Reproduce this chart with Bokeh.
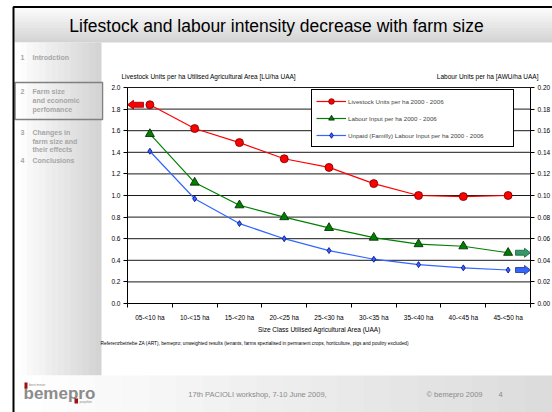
from bokeh.plotting import figure
from bokeh.models import (Range1d, LinearAxis, FixedTicker, NumeralTickFormatter,
                          Legend, LegendItem, GlobalInlineStyleSheet, InlineStyleSheet)
from bokeh.core.properties import value
from bokeh.embed import file_html
from bokeh.resources import INLINE

FONT = "Liberation Sans"

# ---------------- data ----------------
title_text = "Lifestock and labour intensity decrease with farm size"
categories = ["05-<10 ha", "10-<15 ha", "15-<20 ha", "20-<25 ha", "25-<30 ha",
              "30-<35 ha", "35-<40 ha", "40-<45 ha", "45-<50 ha"]
livestock = [1.84, 1.62, 1.49, 1.34, 1.26, 1.11, 1.00, 0.99, 1.00]
labour = [0.157, 0.112, 0.091, 0.080, 0.070, 0.061, 0.055, 0.053, 0.047]
unpaid = [0.141, 0.097, 0.074, 0.060, 0.049, 0.041, 0.036, 0.033, 0.031]
series_labels = ["Livestock Units per ha 2000 - 2006",
                 "Labour Input per ha 2000 - 2006",
                 "Unpaid (Familly) Labour Input per ha 2000 - 2006"]
lu_ticks = [0.0, 0.2, 0.4, 0.6, 0.8, 1.0, 1.2, 1.4, 1.6, 1.8, 2.0]
awu_ticks = [0.0, 0.02, 0.04, 0.06, 0.08, 0.10, 0.12, 0.14, 0.16, 0.18, 0.20]
left_title = "Livestock Units per ha Utilised Agricultural Area  [LU/ha UAA]"
right_title = "Labour Units per ha [AWU/ha UAA]"
x_title = "Size Class Utilised Agricultural Area (UAA)"
footnote = ("Referenzbetriebe ZA (ART), bemepro;  unweighted results (tenants, farms spezialised "
            "in permanent crops, horticulture, pigs and poultry excluded)")
nav_items = [("1", ["Introdction"]),
             ("2", ["Farm size", "and economic", "perfomance"]),
             ("3", ["Changes in", "farm size and", "their effects"]),
             ("4", ["Conclusions"])]
footer_event = "17th PACIOLI workshop, 7-10 June 2009,"
footer_copy = "\u00a9 bemepro 2009"
page_no = "4"
logo_text = "bemepro"

# ---------------- geometry (page pixel coords) ----------------
W, H = 552, 412
FL, FR, FT, FB = 127, 530, 87, 303          # chart plot area on the page
LU_MAX, AWU_MAX = lu_ticks[-1], awu_ticks[-1]
ncat = len(categories)
px_x = (FR - FL) / ncat
px_lu = (FB - FT) / LU_MAX
px_awu = (FB - FT) / AWU_MAX

p = figure(width=W, height=H,
           x_range=Range1d(-FL / px_x, ncat + (W - FR) / px_x),
           y_range=Range1d(-(H - FB) / px_lu, LU_MAX + FT / px_lu),
           x_axis_location=None, y_axis_location=None,
           output_backend="svg", toolbar_location=None,
           min_border=0, min_border_left=0, min_border_right=0,
           min_border_top=0, min_border_bottom=0)
p.stylesheets = [
    GlobalInlineStyleSheet(css="html, body { overflow: hidden !important; margin: 0; } "
                               "::-webkit-scrollbar { display: none; width: 0; height: 0; }"),
    InlineStyleSheet(css=":host { overflow: hidden !important; } "
                         "::-webkit-scrollbar { display: none; width: 0; height: 0; }"),
]
p.title.visible = False
p.extra_y_ranges = {"awu": Range1d(-(H - FB) / px_awu, AWU_MAX + FT / px_awu),
                    "px": Range1d(H, 0)}
p.extra_x_ranges = {"px": Range1d(0, W)}
p.outline_line_color = None
p.background_fill_color = "white"
p.border_fill_color = "white"
p.xgrid.visible = False
p.ygrid.visible = False

PX = dict(x_range_name="px", y_range_name="px")


def mix(c0, c1, t):
    a = [int(c0[i:i + 2], 16) for i in (1, 3, 5)]
    b = [int(c1[i:i + 2], 16) for i in (1, 3, 5)]
    return "#%02x%02x%02x" % tuple(round(a[k] + (b[k] - a[k]) * t) for k in range(3))


def grad(x0, y0, x1, y1, c0, c1, n, horizontal=True):
    L, R, T, B, C = [], [], [], [], []
    for i in range(n):
        t = i / (n - 1)
        if horizontal:
            s = (x1 - x0) / n
            L.append(x0 + i * s); R.append(min(x1, x0 + (i + 1) * s + 0.7)); T.append(y0); B.append(y1)
        else:
            s = (y1 - y0) / n
            L.append(x0); R.append(x1); T.append(y0 + i * s); B.append(min(y1, y0 + (i + 1) * s + 0.7))
        C.append(mix(c0, c1, t))
    p.quad(left=L, right=R, top=T, bottom=B, fill_color=C, line_color=None, **PX)


def text(txt, x, y, size, color="black", align="left", style="normal", baseline="middle"):
    p.text(x=[x], y=[y], text=[txt], text_font=value(FONT), text_font_size=value(f"{size}px"),
           text_color=color, text_align=align, text_baseline=baseline,
           text_font_style=style, **PX)


# ---------------- slide decoration ----------------
grad(14, 7, W, 42, "#fbfbfb", "#d4d4d4", 12, horizontal=False)     # header
grad(14, 42, 101, 375, "#ffffff", "#d4d4d4", 14)                   # sidebar
grad(14, 375, W, H, "#ffffff", "#dcdcdc", 20)                      # footer
p.quad(left=[14.5], right=[102], top=[82], bottom=[119], fill_alpha=0,
       line_color="#808080", line_width=1.5, **PX)                  # active nav item
p.line(x=[13, 13, W], y=[H, 6.5, 6.5], line_color="black", line_width=2, **PX)  # frame

text(title_text, 276, 25, 17.5, align="center")

nav_y = [[57], [91, 100, 109], [132, 140.5, 149], [159.5]]
for (num, lines), ys in zip(nav_items, nav_y):
    text(num, 20, ys[0], 7, color="#a6a6a6", style="bold")
    for t, yy in zip(lines, ys):
        text(t, 32, yy, 7, color="#a6a6a6", style="bold")

text(footer_event, 257, 394, 7.5, color="#8a8a8a", align="center")
text(footer_copy, 454, 394, 7.5, color="#8a8a8a", align="center")
text(page_no, 500, 394, 7.5, color="#8a8a8a", align="center")

# logo
text(logo_text, 23, 393, 17, color="#8c8c8c", style="bold")
p.quad(left=[24, 74], right=[27, 77.5], top=[382, 398], bottom=[388, 403],
       fill_color="#a01010", line_color=None, **PX)
text("best meier", 28.5, 384.5, 3.5, color="#888888")
text("projekte", 79, 401, 3.5, color="#888888")

# chart texts
text(left_title, 121, 75.5, 6.5)
text(right_title, 538, 75.5, 6.5, align="right")
text(x_title, 319, 329, 6.5, align="center")
text(footnote, 100, 343, 4.8)

# ---------------- gridlines (at the left axis ticks) ----------------
p.segment(x0=[0] * len(lu_ticks), x1=[ncat] * len(lu_ticks), y0=lu_ticks, y1=lu_ticks,
          line_color="#1a1a1a", line_width=1)

# ---------------- axes ----------------
centers = [i + 0.5 for i in range(ncat)]
bounds = [float(i) for i in range(ncat + 1)]
xaxis = LinearAxis(ticker=FixedTicker(ticks=centers, minor_ticks=bounds),
                   major_label_overrides={c: t for c, t in zip(centers, categories)},
                   fixed_location=0, bounds=(0, ncat))
xaxis.major_tick_line_color = None
xaxis.major_tick_out = 0
xaxis.major_tick_in = 0
xaxis.minor_tick_out = 4
xaxis.minor_tick_in = 0
xaxis.minor_tick_line_color = "black"
xaxis.axis_line_color = "black"
xaxis.major_label_standoff = 6
xaxis.major_label_text_font = FONT
xaxis.major_label_text_font_size = "6.5px"
xaxis.major_label_text_color = "black"
p.add_layout(xaxis, "below")

laxis = LinearAxis(ticker=FixedTicker(ticks=lu_ticks), formatter=NumeralTickFormatter(format="0.0"),
                   fixed_location=0, bounds=(0, LU_MAX))
raxis = LinearAxis(y_range_name="awu", ticker=FixedTicker(ticks=awu_ticks),
                   formatter=NumeralTickFormatter(format="0.00"),
                   fixed_location=ncat, bounds=(0, AWU_MAX))
for ax in (laxis, raxis):
    ax.major_tick_out = 4
    ax.major_tick_in = 0
    ax.major_tick_line_color = "black"
    ax.axis_line_color = "black"
    ax.major_label_standoff = 3
    ax.major_label_text_font = FONT
    ax.major_label_text_font_size = "6.5px"
    ax.major_label_text_color = "black"
p.add_layout(laxis, "left")
p.add_layout(raxis, "right")

# ---------------- series ----------------
r1 = p.line(centers, livestock, line_color="#ff0000", line_width=1.2)
m1 = p.scatter(centers, livestock, marker="circle", size=8, fill_color="#ff0000",
               line_color="#700000", line_width=0.8)
r2 = p.line(centers, labour, y_range_name="awu", line_color="#008000", line_width=1.2)
m2 = p.scatter(centers, labour, y_range_name="awu", marker="triangle", size=9,
               fill_color="#008000", line_color="#002000", line_width=0.8)
r3 = p.line(centers, unpaid, y_range_name="awu", line_color="#3366ff", line_width=1.2)
m3 = p.scatter(centers, unpaid, y_range_name="awu", marker="diamond", size=6,
               fill_color="#3366ff", line_color="#000080", line_width=0.8)


# block arrows
def arrow(tip_x, tip_y, direction, px_y, length=15, head=6, hh=4.5, sh=2.5):
    pts = [(0, 0), (head, hh), (head, sh), (length, sh), (length, -sh), (head, -sh), (head, -hh)]
    xs = [tip_x - direction * dx / px_x for dx, dy in pts]
    ys = [tip_y + dy / px_y for dx, dy in pts]
    return xs, ys


xs, ys = arrow(0, livestock[0], -1, px_lu, length=16)
p.patch(xs, ys, fill_color="#ff0000", line_color="#8b0000", line_width=0.8)
xs, ys = arrow(ncat, labour[-1], 1, px_awu)
p.patch(xs, ys, y_range_name="awu", fill_color="#339966", line_color="#1d5e3c", line_width=0.8)
xs, ys = arrow(ncat, unpaid[-1], 1, px_awu)
p.patch(xs, ys, y_range_name="awu", fill_color="#3366ff", line_color="#1a3380", line_width=0.8)

legend = Legend(items=[LegendItem(label=series_labels[0], renderers=[r1, m1]),
                       LegendItem(label=series_labels[1], renderers=[r2, m2]),
                       LegendItem(label=series_labels[2] + "\u00a0" * 15, renderers=[r3, m3])],
                location=(311, H - 147))
legend.border_line_color = "black"
legend.border_line_width = 1
legend.border_line_alpha = 1
legend.background_fill_color = "white"
legend.background_fill_alpha = 1
legend.label_text_font = FONT
legend.label_text_font_size = "6.2px"
legend.glyph_width = 30
legend.glyph_height = 14
legend.label_height = 14
legend.spacing = 3
legend.padding = 4
legend.margin = 0
legend.label_standoff = 2
p.add_layout(legend)

open("out.html", "w").write(file_html(p, INLINE))
